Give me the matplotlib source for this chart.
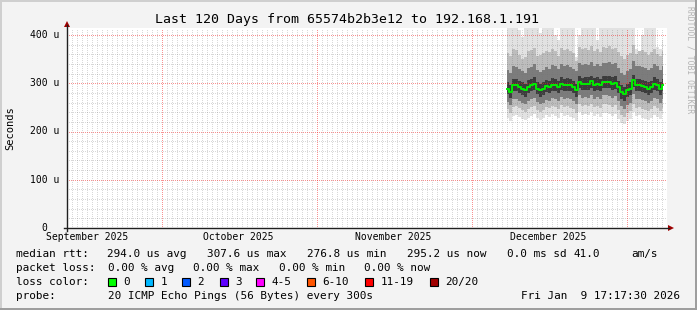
import numpy as np
import matplotlib
matplotlib.use("Agg")
import matplotlib.pyplot as plt
from matplotlib.patches import Rectangle, Polygon
from matplotlib.lines import Line2D

# ---------------- data ----------------
title = "Last 120 Days from 65574b2b3e12 to 192.168.1.191"
month_labels = ["September 2025", "October 2025", "November 2025", "December 2025"]
month_label_day = [4.0, 34.2, 65.2, 96.2]      # days since window start
month_major_day = [19, 50, 81, 112]
y_ticks = [0, 100, 200, 300, 400]              # microseconds
y_tick_labels = ["0", "100 u", "200 u", "300 u", "400 u"]

data_start_day = 88.0
data_step_day = 0.6

median = [289,282,297,296,292,289,285,292,296,299,
          289,285,289,294,292,297,296,292,299,296,
          297,296,292,285,303,299,299,299,304,297,
          299,296,303,303,303,299,301,292,282,278,
          285,289,306,296,296,294,292,289,292,299,
          296,289,296]
p60 = [302,296,309,308,305,302,299,306,309,312,
       302,299,303,307,305,310,308,305,312,309,
       310,308,305,299,315,311,312,312,316,310,
       312,309,315,316,315,312,314,305,296,292,
       298,302,318,308,309,307,305,302,305,312,
       308,302,309]
p40 = [277,269,284,283,280,276,272,279,283,286,
       277,272,276,281,279,284,283,279,286,283,
       284,283,279,272,290,286,286,286,291,284,
       286,283,290,290,290,286,288,279,268,264,
       271,276,293,283,283,281,279,276,279,286,
       283,276,283]
p75 = [328,322,336,334,330,326,322,332,334,340,
       328,324,327,333,330,337,335,330,339,335,
       337,334,330,325,343,338,339,338,344,336,
       339,335,343,342,344,339,341,332,322,318,
       325,329,346,335,336,333,331,328,331,339,
       335,328,336]
p25 = [262,254,268,268,264,260,256,263,268,270,
       261,257,260,266,264,269,268,263,271,268,
       269,267,264,256,275,270,271,270,276,268,
       271,267,275,275,274,270,273,263,252,247,
       255,260,277,267,268,265,263,260,264,270,
       267,260,267]
p90 = [362,356,372,368,358,350,354,366,368,374,
       356,358,362,366,364,372,366,356,374,368,
       372,366,362,346,376,372,374,368,378,366,
       372,364,376,374,378,372,374,364,356,350,
       358,362,380,360,366,368,364,358,364,372,
       360,356,366]
p10 = [246,238,250,252,248,244,240,246,250,253,
       244,240,244,250,248,252,250,246,254,250,
       252,248,246,238,256,252,254,252,258,250,
       253,248,256,256,254,250,254,244,234,230,
       238,243,258,248,250,246,244,242,246,252,
       248,242,248]
pmin = [228,222,232,235,230,226,224,228,232,236,
        228,224,228,234,230,236,232,228,238,232,
        234,230,228,222,240,234,236,234,240,232,
        236,230,238,238,236,232,236,226,218,215,
        222,226,240,232,234,228,226,224,228,234,
        230,226,236]
pmax = [420,420,420,420,410,395,420,420,420,420,
        420,405,420,420,420,420,400,390,420,420,
        420,420,420,355,400,420,420,420,420,420,
        390,420,420,420,420,420,420,420,420,420,
        420,420,420,370,360,400,420,420,420,420,
        375,370,390]

loss_labels = ["0", "1", "2", "3", "4-5", "6-10", "11-19", "20/20"]
loss_colors = ["#00ff00", "#00b8ff", "#0059ff", "#5e00ff", "#ff00ff", "#ff5500", "#ff0000", "#a10000"]

median_stats = ["294.0 us avg", "307.6 us max", "276.8 us min", "295.2 us now", "0.0 ms sd", "41.0", "am/s"]
loss_stats = ["0.00 % avg", "0.00 % max", "0.00 % min", "0.00 % now"]
probe_text = "20 ICMP Echo Pings (56 Bytes) every 300s"
timestamp = "Fri Jan  9 17:17:30 2026"

# ---------------- layout ----------------
W, H = 697, 310
X0, X1 = 67, 667
YB, YT = 228, 28
px_per_u = 0.4825
ytop = (YB - YT) / px_per_u

plt.rcParams['font.family'] = ['DejaVu Sans Mono']

fig = plt.figure(figsize=(W / 100, H / 100), dpi=100, facecolor='#f3f3f3')
tf = fig.transFigure
def fx(x): return x / W
def fy(y): return 1 - y / H

ax = fig.add_axes([fx(X0), fy(YB), (X1 - X0) / W, (YB - YT) / H])
ax.set_facecolor('white')
ax.set_xlim(0, 120)
ax.set_ylim(0, ytop)
for s in ax.spines.values():
    s.set_visible(False)
ax.set_xticks([]); ax.set_yticks([])

t = data_start_day + data_step_day * np.arange(len(median))

bands = [(pmin, pmax, '#e2e2e2'), (p10, p90, '#bdbdbd'),
         (p25, p75, '#7c7c7c'), (p40, p60, '#3c3c3c')]
for lo, hi, c in bands:
    ax.fill_between(t, lo, hi, step='mid', color=c, lw=0, zorder=2)

# grid
minor_c = (0.45, 0.45, 0.45, 0.28)
major_c = (0.95, 0.15, 0.15, 0.50)
dash = (0, (1, 1.5))
for d in range(0, 121):
    if d in month_major_day:
        continue
    ax.axvline(d, color=minor_c, lw=0.72, ls=dash, zorder=3, antialiased=False)
for v in range(20, 420, 20):
    if v % 100 == 0:
        continue
    ax.axhline(v, color=minor_c, lw=0.72, ls=dash, zorder=3, antialiased=False)
for d in month_major_day:
    ax.axvline(d, color=major_c, lw=0.72, ls=dash, zorder=3, antialiased=False)
for v in y_ticks[1:]:
    ax.axhline(v, color=major_c, lw=0.72, ls=dash, zorder=3, antialiased=False)

ax.step(t, median, where='mid', color='#00ee00', lw=1.4, zorder=4)

# axes lines and arrows
fig.add_artist(Line2D([fx(X0), fx(X0)], [fy(YB + 3), fy(25)], transform=tf, color='#202020', lw=1))
fig.add_artist(Line2D([fx(X0 - 3), fx(669)], [fy(YB), fy(YB)], transform=tf, color='#202020', lw=1))
fig.add_artist(Polygon([[fx(X0 - 3), fy(27)], [fx(X0 + 3), fy(27)], [fx(X0), fy(21)]],
                       closed=True, transform=tf, color='#a00000', lw=0))
fig.add_artist(Polygon([[fx(668), fy(YB - 3)], [fx(668), fy(YB + 3)], [fx(674), fy(YB)]],
                       closed=True, transform=tf, color='#a00000', lw=0))

# tick labels
for v, lab in zip(y_ticks, y_tick_labels):
    yy = YB - v * px_per_u
    if lab == "0":
        fig.text(fx(44.5), fy(yy), lab, ha='center', va='center', fontsize=7)
    else:
        fig.text(fx(59.5), fy(yy), lab, ha='right', va='center', fontsize=7)
for d, lab in zip(month_label_day, month_labels):
    fig.text(fx(X0 + d * 5), fy(237), lab, ha='center', va='center', fontsize=7)

fig.text(fx(10), fy(128), "Seconds", rotation=90, ha='center', va='center', fontsize=7.5)
fig.text(fx(347), fy(19), title, ha='center', va='center', fontsize=9.5)
fig.text(fx(690), fy(60), "RRDTOOL / TOBI OETIKER", rotation=-90, ha='center', va='center',
         fontsize=5.8, color='#b4b4b4')

# legend
LF = 7.9
fig.text(fx(16), fy(254), "median rtt:", ha='left', va='center', fontsize=LF)
for xp, s in zip([107, 207, 307, 407, 507, 574, 631], median_stats):
    fig.text(fx(xp), fy(254), s, ha='left', va='center', fontsize=LF)
fig.text(fx(16), fy(268), "packet loss:", ha='left', va='center', fontsize=LF)
for xp, s in zip([107.5, 193, 279, 364], loss_stats):
    fig.text(fx(xp), fy(268), s, ha='left', va='center', fontsize=LF)
fig.text(fx(16), fy(282), "loss color:", ha='left', va='center', fontsize=LF)
box_x = [108, 145, 182, 220, 256, 307, 365, 430]
for bx, lab, c in zip(box_x, loss_labels, loss_colors):
    fig.add_artist(Rectangle((fx(bx), fy(286)), 8 / W, 8 / H, transform=tf,
                             facecolor=c, edgecolor='black', lw=0.8))
    fig.text(fx(bx + 15.5), fy(282), lab, ha='left', va='center', fontsize=LF)
fig.text(fx(16), fy(296), "probe:", ha='left', va='center', fontsize=LF)
fig.text(fx(107.5), fy(296), probe_text, ha='left', va='center', fontsize=LF)
fig.text(fx(680), fy(296), timestamp, ha='right', va='center', fontsize=LF)

# frame
fig.add_artist(Rectangle((0, 1 - 2 / H), 1, 2 / H, transform=tf, color='#cfcfcf', lw=0))
fig.add_artist(Rectangle((0, 0), 2 / W, 1, transform=tf, color='#cfcfcf', lw=0))
fig.add_artist(Rectangle((0, 0), 1, 2 / H, transform=tf, color='#9e9e9e', lw=0))
fig.add_artist(Rectangle((1 - 2 / W, 0), 2 / W, 1, transform=tf, color='#9e9e9e', lw=0))

fig.savefig("out.png", dpi=100, facecolor=fig.get_facecolor())
